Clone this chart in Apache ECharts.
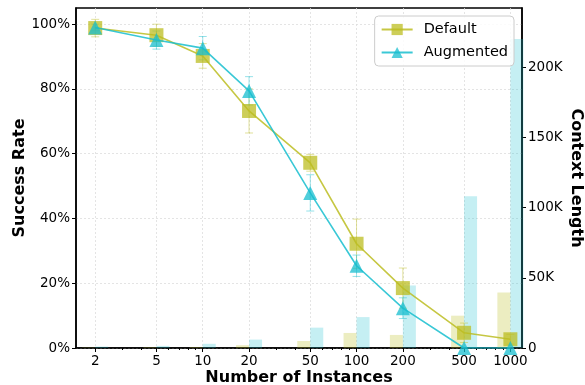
<!DOCTYPE html>
<html><head><meta charset="utf-8">
<script src="https://cdn.jsdelivr.net/npm/echarts@6/dist/echarts.min.js"></script>
<style>html,body{margin:0;padding:0;background:#fff}#c{width:585px;height:385px}</style>
</head><body><div id="c"></div>
<script>
const instances = [2, 5, 10, 20, 50, 100, 200, 500, 1000];
const minorTicks = [3, 4, 6, 7, 8, 9, 30, 40, 60, 70, 80, 90, 300, 400, 600, 700, 800, 900];
const defaultRate = [98.8, 96.6, 90.2, 73.2, 57.2, 32.2, 18.5, 4.7, 2.7];
const defaultErr = [2.7, 3.4, 3.8, 6.8, 2.6, 7.6, 6.2, 3.0, 1.5];
const augRate = [99.0, 95.1, 92.6, 79.4, 47.9, 25.4, 12.3, 0, 0];
const augErr = [1.0, 2.8, 3.6, 4.4, 5.6, 3.3, 3.2, 0, 0];
const defaultCtx = [300, 500, 600, 2000, 5000, 10700, 9300, 23000, 39500];
const augCtx = [1000, 1500, 3000, 6000, 14500, 22000, 44500, 108000, 220000];
const rateTicks = [0, 20, 40, 60, 80, 100];

const C_DEF = '#bcbd22', C_AUG = '#17becf';
const FONT = 'DejaVu Sans';

function pairs(xs, ys) { return xs.map((x, i) => [x, ys[i]]); }
function triples(xs, ys, es) { return xs.map((x, i) => [x, ys[i], es[i]]); }

function errRender(color) {
  return function (params, api) {
    const x = api.value(0), y = api.value(1), e = api.value(2);
    if (!e) return null;
    const t = api.coord([x, y + e]), b = api.coord([x, y - e]);
    const cw = 4;
    const st = { stroke: color, lineWidth: 1, opacity: 0.45 };
    return { type: 'group', children: [
      { type: 'line', shape: { x1: t[0], y1: t[1], x2: b[0], y2: b[1] }, style: st },
      { type: 'line', shape: { x1: t[0] - cw, y1: t[1], x2: t[0] + cw, y2: t[1] }, style: st },
      { type: 'line', shape: { x1: b[0] - cw, y1: b[1], x2: b[0] + cw, y2: b[1] }, style: st }
    ]};
  };
}

const chart = echarts.init(document.getElementById('c'), null, { renderer: 'canvas' });
const axisText = { fontFamily: FONT, fontSize: 13.5, color: '#000' };
const titleText = { fontFamily: FONT, fontSize: 16, fontWeight: 'bold', color: '#000' };
const gridLine = { show: true, lineStyle: { color: '#ddd', type: [2, 2], width: 0.8 } };

chart.setOption({
  animation: false,
  textStyle: { fontFamily: FONT },
  grid: { left: 76, right: 63, top: 8, bottom: 37, outerBoundsMode: 'none', containLabel: false,
    show: true, borderColor: '#000', borderWidth: 1.5, backgroundColor: 'transparent' },
  legend: {
    data: ['Default', 'Augmented'], orient: 'vertical', right: 71, top: 16,
    itemWidth: 31, itemHeight: 14, itemGap: 8,
    textStyle: { fontFamily: FONT, fontSize: 14.5, color: '#000', padding: [0, 0, 0, 6] },
    borderColor: '#ccc', borderWidth: 1, borderRadius: 4, padding: [6, 6, 6, 6],
    backgroundColor: 'rgba(255,255,255,0.85)'
  },
  xAxis: [{
    type: 'log', logBase: 10, min: 1.5, max: 1190,
    name: 'Number of Instances', nameLocation: 'middle', nameGap: 22, nameMoveOverlap: false,
    nameTextStyle: titleText,
    axisLine: { show: true, lineStyle: { color: '#000', width: 1.5 } },
    axisTick: { show: true, length: 4, inside: false, customValues: instances, lineStyle: { color: '#000' } },
    axisLabel: { customValues: instances, formatter: v => String(Math.round(v)), ...axisText, margin: 6 },
    splitLine: gridLine, minorTick: { show: false }
  }, {
    type: 'log', logBase: 10, min: 1.5, max: 1190, position: 'bottom',
    axisLine: { show: false },
    axisTick: { show: true, length: 2, customValues: minorTicks, lineStyle: { color: '#000' } },
    axisLabel: { show: false }, splitLine: { show: false }
  }],
  yAxis: [{
    type: 'value', min: 0, max: 105, interval: 20,
    name: 'Success Rate', nameLocation: 'middle', nameGap: 48, nameRotate: 90, nameMoveOverlap: false,
    nameTextStyle: titleText,
    axisLine: { show: true, lineStyle: { color: '#000', width: 1.5 } },
    axisTick: { show: true, length: 4, customValues: rateTicks, lineStyle: { color: '#000' } },
    axisLabel: { customValues: rateTicks, formatter: v => v + '%', ...axisText, margin: 6 },
    splitLine: gridLine
  }, {
    type: 'value', min: 0, max: 242000, interval: 50000, position: 'right',
    name: 'Context Length', nameLocation: 'middle', nameGap: 46, nameRotate: -90, nameMoveOverlap: false,
    nameTextStyle: titleText,
    axisLine: { show: true, lineStyle: { color: '#000', width: 1.5 } },
    axisTick: { show: true, length: 4, lineStyle: { color: '#000' } },
    axisLabel: { showMaxLabel: false, formatter: v => v === 0 ? '0' : (v / 1000) + 'K', ...axisText, margin: 6 },
    splitLine: { show: false }
  }],
  series: [
    { name: 'Default ctx', type: 'bar', xAxisIndex: 0, yAxisIndex: 1, data: pairs(instances, defaultCtx),
      barWidth: 13, barGap: '0%', itemStyle: { color: C_DEF, opacity: 0.28 }, z: 1 },
    { name: 'Augmented ctx', type: 'bar', xAxisIndex: 0, yAxisIndex: 1, data: pairs(instances, augCtx),
      barWidth: 13, barGap: '0%', itemStyle: { color: C_AUG, opacity: 0.25 }, z: 1 },
    { name: 'Default err', type: 'custom', xAxisIndex: 0, yAxisIndex: 0, data: triples(instances, defaultRate, defaultErr),
      renderItem: errRender(C_DEF), z: 3, clip: false },
    { name: 'Augmented err', type: 'custom', xAxisIndex: 0, yAxisIndex: 0, data: triples(instances, augRate, augErr),
      renderItem: errRender(C_AUG), z: 3, clip: false },
    { name: 'Default', type: 'line', xAxisIndex: 0, yAxisIndex: 0, data: pairs(instances, defaultRate),
      symbol: 'rect', symbolSize: 14, showAllSymbol: true,
      lineStyle: { color: C_DEF, width: 1.6, opacity: 0.85 },
      itemStyle: { color: C_DEF, opacity: 0.75 }, z: 4 },
    { name: 'Augmented', type: 'line', xAxisIndex: 0, yAxisIndex: 0, data: pairs(instances, augRate),
      symbol: 'triangle', symbolSize: 14, showAllSymbol: true,
      lineStyle: { color: C_AUG, width: 1.6, opacity: 0.85 },
      itemStyle: { color: C_AUG, opacity: 0.75 }, z: 5 }
  ]
});
</script></body></html>
